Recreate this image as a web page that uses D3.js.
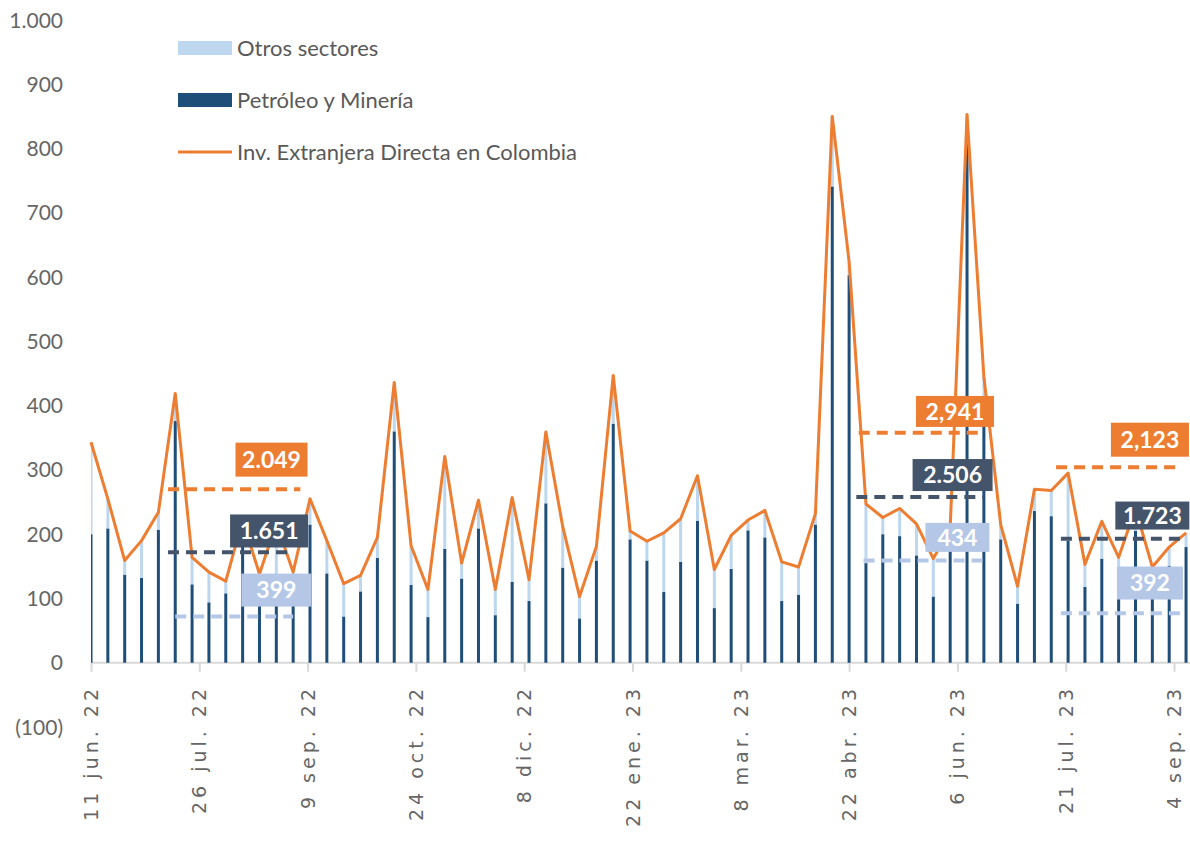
<!DOCTYPE html>
<html><head><meta charset="utf-8">
<script src="https://cdn.jsdelivr.net/npm/d3@7"></script>
<style>body{margin:0;background:#fff}svg{display:block}</style>
</head><body>
<svg id="chart" width="1190" height="844"></svg>
<script>
// ---------- DATA ----------
const weeks = ["2022-06-11","2022-06-18","2022-06-25","2022-07-02","2022-07-09","2022-07-16","2022-07-23","2022-07-30","2022-08-06","2022-08-13","2022-08-20","2022-08-27","2022-09-03","2022-09-10","2022-09-17","2022-09-24","2022-10-01","2022-10-08","2022-10-15","2022-10-22","2022-10-29","2022-11-05","2022-11-12","2022-11-19","2022-11-26","2022-12-03","2022-12-10","2022-12-17","2022-12-24","2022-12-31","2023-01-07","2023-01-14","2023-01-21","2023-01-28","2023-02-04","2023-02-11","2023-02-18","2023-02-25","2023-03-04","2023-03-11","2023-03-18","2023-03-25","2023-04-01","2023-04-08","2023-04-15","2023-04-22","2023-04-29","2023-05-06","2023-05-13","2023-05-20","2023-05-27","2023-06-03","2023-06-10","2023-06-17","2023-06-24","2023-07-01","2023-07-08","2023-07-15","2023-07-22","2023-07-29","2023-08-05","2023-08-12","2023-08-19","2023-08-26","2023-09-02","2023-09-09"];
const petroleoMineria = [200,209,137,132,207,376,122,94,108,190,100,115,95,215,139,72,111,163,360,121,71,177,131,209,74,126,96,248,148,69,159,372,192,159,110,157,221,85,146,206,195,96,106,215,741,603,155,200,197,167,103,200,815,410,192,92,236,228,190,118,162,120,205,100,151,180];
const otrosSectores = [143,46,22,58,27,43,42,47,19,32,38,102,46,40,51,51,25,32,76,61,43,144,24,44,40,131,33,111,64,34,22,75,13,30,92,67,70,60,52,16,42,61,43,17,109,21,92,26,43,49,59,10,38,35,23,27,34,40,105,35,58,44,35,49,29,22];
const ied = [343,255,159,190,234,419,164,141,127,222,138,217,141,255,190,123,136,195,436,182,114,321,155,253,114,257,129,359,212,103,181,447,205,189,202,224,291,145,198,222,237,157,149,232,850,624,247,226,240,216,162,210,853,445,215,119,270,268,295,153,220,164,240,149,180,202];

const tickDates = ["2022-06-11","2022-07-26","2022-09-09","2022-10-24","2022-12-08","2023-01-22","2023-03-08","2023-04-22","2023-06-06","2023-07-21","2023-09-04"];
const tickLabels = ["11 jun. 22","26 jul. 22","9 sep. 22","24 oct. 22","8 dic. 22","22 ene. 23","8 mar. 23","22 abr. 23","6 jun. 23","21 jul. 23","4 sep. 23"];
const yTicks = [-100,0,100,200,300,400,500,600,700,800,900,1000];
const yTickLabels = ["(100)","0","100","200","300","400","500","600","700","800","900","1.000"];

const seriesNames = ["Otros sectores","Petróleo y Minería","Inv. Extranjera Directa en Colombia"];

// annotation averages (dashed reference lines with value boxes)
const annoLabels = ["2.049","1.651","399","2,941","2.506","434","2,123","1.723","392"];
const annoSeries = ["ied","pet","otros","ied","pet","otros","ied","pet","otros"];
const annoValues = [270,172,72,358,258,159,304,193,77];
const annoStart = ["2022-07-13","2022-07-13","2022-07-16","2023-04-26","2023-04-25","2023-04-28","2023-07-17","2023-07-19","2023-07-19"];
const annoEnd = ["2022-09-06","2022-09-03","2022-09-03","2023-06-17","2023-06-17","2023-06-17","2023-09-07","2023-09-07","2023-09-07"];
const annoLabelDate = ["2022-08-25","2022-08-24","2022-08-27","2023-06-05","2023-06-04","2023-06-06","2023-08-25","2023-08-26","2023-08-25"];
const annoLabelValue = [316,205,113,391,292,195,347,229,124];

// ---------- STYLE ----------
const C = {ied:"#ED7D31", pet:"#1F4E79", otros:"#BDD7EE",
           boxIed:"#ED7D31", boxPet:"#44546A", boxOtros:"#B4C7E7",
           dashIed:"#ED7D31", dashPet:"#44546A", dashOtros:"#B4C7E7",
           text:"#595959", axis:"#D9D9D9"};
const boxW = [72,78,70,78,80,64,78,74,66];
const boxH = [34,33,33,31,32,29,34,28,33];

const parse = d3.utcParse("%Y-%m-%d");
const svg = d3.select("#chart");

const x = d3.scaleUtc().domain([parse("2022-06-11"), parse("2023-09-04")]).range([91, 1174]);
const y = d3.scaleLinear().domain([-100, 1000]).range([727, 20]);

const plotRight = 1190;
svg.append("defs").append("clipPath").attr("id","clip")
  .append("rect").attr("x",91).attr("y",0).attr("width",plotRight-91).attr("height",844);

// y tick labels
svg.append("g").selectAll("text").data(yTicks).join("text")
  .attr("x", 63).attr("y", d => y(d)).attr("dy","0.36em")
  .attr("text-anchor","end")
  .attr("font-family", (d)=> d<0 ? "'Liberation Sans Narrow', 'Lato', sans-serif" : "Lato, sans-serif")
  .attr("font-size", 21).attr("fill", "#666666")
  .text((d,i) => yTickLabels[i]);

// x axis
const xAxisG = svg.append("g").attr("transform", `translate(0,${y(0)})`);
xAxisG.append("line").attr("x1",91).attr("x2",plotRight).attr("y1",0).attr("y2",0)
  .attr("stroke",C.axis).attr("stroke-width",2);
const xAxis = d3.axisBottom(x).tickValues(tickDates.map(parse)).tickSize(9).tickFormat("");
const axG = xAxisG.append("g").call(xAxis);
axG.select(".domain").remove();
axG.selectAll(".tick line").attr("stroke",C.axis).attr("stroke-width",2);

// x tick labels (rotated)
svg.append("g").selectAll("text").data(tickDates).join("text")
  .attr("transform", d => `translate(${x(parse(d))+7},685) rotate(-90)`)
  .attr("text-anchor","end")
  .attr("font-family","'DejaVu Sans', sans-serif")
  .attr("font-size",19).attr("letter-spacing",4)
  .attr("fill","#666666")
  .text((d,i)=>tickLabels[i]);

// stacked bars
const bw = 3;
const barsG = svg.append("g").attr("clip-path","url(#clip)");
barsG.selectAll("rect.pet").data(weeks).join("rect").attr("class","pet")
  .attr("x", d => x(parse(d)) - bw/2).attr("width", bw)
  .attr("y", (d,i) => y(petroleoMineria[i])).attr("height", (d,i) => y(0) - y(petroleoMineria[i]))
  .attr("fill", C.pet);
barsG.selectAll("rect.otros").data(weeks).join("rect").attr("class","otros")
  .attr("x", d => x(parse(d)) - bw/2).attr("width", bw)
  .attr("y", (d,i) => y(petroleoMineria[i] + otrosSectores[i]))
  .attr("height", (d,i) => y(petroleoMineria[i]) - y(petroleoMineria[i] + otrosSectores[i]))
  .attr("fill", C.otros);

// IED line
const line = d3.line().x(d => x(parse(d))).y((d,i) => y(ied[i]));
svg.append("path").datum(weeks).attr("d", line)
  .attr("fill","none").attr("stroke",C.ied).attr("stroke-width",3).attr("stroke-linejoin","round");

// annotations
const dashCol = {ied:C.dashIed, pet:C.dashPet, otros:C.dashOtros};
const boxCol = {ied:C.boxIed, pet:C.boxPet, otros:C.boxOtros};
const aG = svg.append("g");
annoLabels.forEach((lab,i) => {
  const s = annoSeries[i];
  aG.append("line")
    .attr("x1", x(parse(annoStart[i]))).attr("x2", x(parse(annoEnd[i])))
    .attr("y1", y(annoValues[i])).attr("y2", y(annoValues[i]))
    .attr("stroke", dashCol[s]).attr("stroke-width",4).attr("stroke-dasharray","11,7");
});
annoLabels.forEach((lab,i) => {
  const s = annoSeries[i];
  const cx = x(parse(annoLabelDate[i])), cy = y(annoLabelValue[i]);
  aG.append("rect").attr("x", cx - boxW[i]/2).attr("y", cy - boxH[i]/2)
    .attr("width", boxW[i]).attr("height", boxH[i]).attr("fill", boxCol[s]);
  aG.append("text").attr("x", cx).attr("y", cy).attr("dy","0.36em")
    .attr("text-anchor","middle").attr("font-family","Lato, sans-serif")
    .attr("font-weight","bold").attr("font-size",23).attr("fill","#fff").text(lab);
});

// legend
const lg = svg.append("g");
const legY = [48, 100, 152];
lg.append("rect").attr("x",178).attr("y",legY[0]-7).attr("width",54).attr("height",14).attr("fill",C.otros);
lg.append("rect").attr("x",178).attr("y",legY[1]-7).attr("width",54).attr("height",14).attr("fill",C.pet);
lg.append("line").attr("x1",178).attr("x2",232).attr("y1",legY[2]).attr("y2",legY[2]).attr("stroke",C.ied).attr("stroke-width",3);
lg.selectAll("text").data(seriesNames).join("text")
  .attr("x",237).attr("y",(d,i)=>legY[i]).attr("dy","0.36em")
  .attr("font-family","Lato, sans-serif").attr("font-size",22).attr("fill",C.text)
  .text(d=>d);
</script>
</body></html>
